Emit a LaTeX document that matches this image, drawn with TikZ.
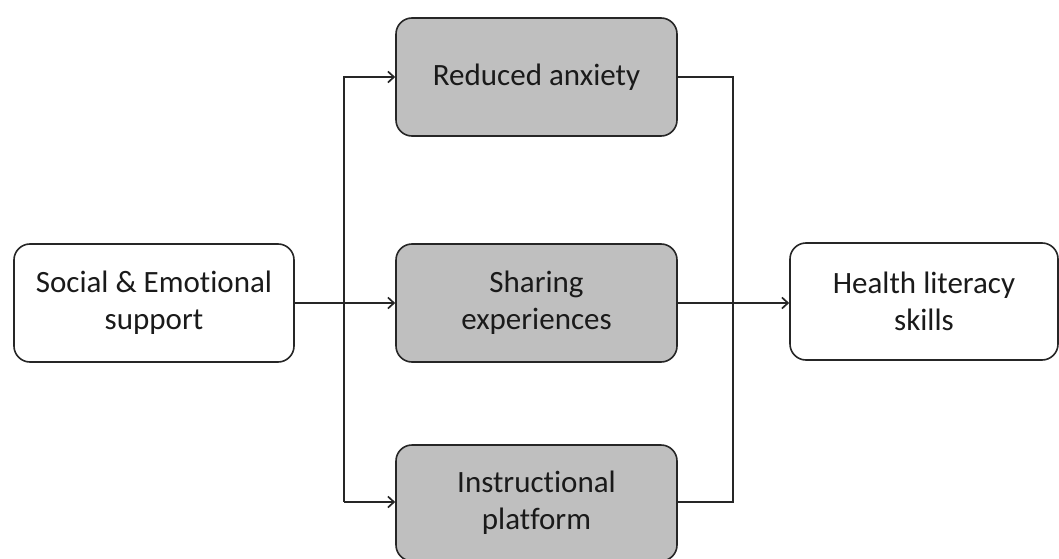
\documentclass[tikz,border=0pt]{standalone}
\usepackage{fontspec}
\setmainfont{Carlito}[Ligatures=NoCommon]
\usetikzlibrary{arrows.meta}
\definecolor{boxgray}{HTML}{BFBFBF}
\definecolor{txt}{HTML}{1A1A1A}
\tikzset{
  box/.style={draw=black!85, line width=1.6pt, rounded corners=16pt, minimum width=280pt, minimum height=118pt, align=center, inner sep=0pt, text=txt, font=\fontsize{31}{37}\selectfont},
  graybox/.style={box, fill=boxgray},
  conn/.style={draw=black!85, line width=1.6pt},
  arr/.style={conn, -{Straight Barb[length=6pt,width=11pt,line width=1.7pt]}}
}
\begin{document}
\begin{tikzpicture}[x=1pt,y=1pt]
\useasboundingbox (0,0) rectangle (1059,558);
\clip (0,0) rectangle (1059,558);
\node[box] (social) at (154,255) {Social \& Emotional\\support};
\node[graybox, minimum width=281pt] (reduced) at (536.5,481) {Reduced anxiety};
\node[graybox, minimum width=281pt] (sharing) at (536.5,255) {Sharing\\experiences};
\node[graybox, minimum width=281pt, minimum height=116pt] (instr) at (536.5,55) {Instructional\\platform};
\node[box, minimum width=268pt, minimum height=117pt] (health) at (924,256.5) {Health literacy\\skills};
\coordinate (lt) at (344,481);
\coordinate (lb) at (344,56);
\coordinate (rt) at (733,481);
\coordinate (rb) at (733,56);
\draw[conn] (social.east) -- (344,255);
\draw[arr] (344,255) -- (sharing.west);
\draw[arr] (lb) -- (lt) -- (reduced.west);
\draw[arr] (lb) -- (instr.west |- lb);
\draw[conn] (reduced.east) -- (rt) -- (rb) -- (instr.east |- rb);
\draw[arr] (sharing.east) -- (health.west |- sharing.east);
\end{tikzpicture}
\end{document}
